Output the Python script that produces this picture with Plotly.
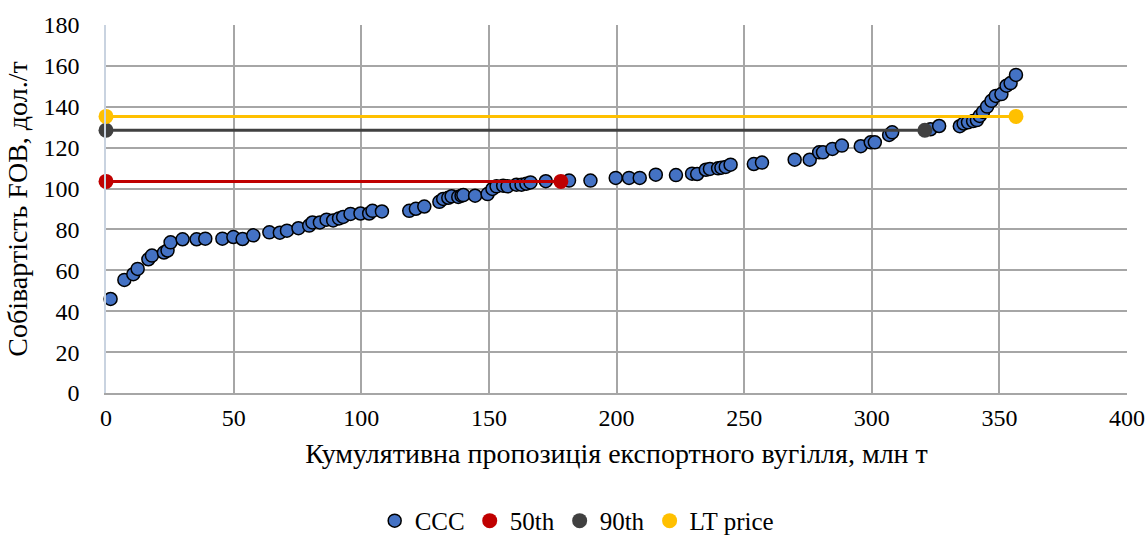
import plotly.graph_objects as go

# CCC: cumulative supply (Mt) vs FOB cost (USD/t)
ccc_x = [1.8, 7.2, 10.7, 12.4, 16.6, 18.0, 22.7, 24.1, 25.3, 30.0, 35.5, 38.9, 45.6, 49.9,
         53.5, 57.7, 64.0, 68.1, 70.9, 75.4, 79.6, 80.9, 83.8, 86.4, 89.0, 91.3, 92.9,
         95.8, 99.7, 103.1, 104.4, 108.1, 118.8, 121.4, 124.7, 130.6, 132.1, 134.1,
         135.4, 138.0, 139.3, 140.0, 144.6, 149.5, 151.4, 153.0, 155.6, 157.3, 160.8,
         162.8, 164.7, 166.3, 172.3, 181.4, 189.8, 199.7, 204.9, 209.1, 215.4, 223.3,
         229.6, 231.6, 235.0, 236.6, 239.8, 241.1, 242.8, 244.7, 253.8, 257.0, 269.8,
         275.7, 279.4, 280.9, 284.6, 288.3, 295.7, 299.6, 301.2, 306.8, 308.0, 323.0,
         326.4, 334.5, 336.0, 337.7, 339.7, 341.2, 342.3, 343.6, 345.2, 346.9, 348.6,
         350.8, 352.8, 354.4, 356.5]
ccc_y = [46.0, 55.3, 58.1, 60.7, 65.4, 67.2, 68.7, 69.7, 73.7, 75.2, 75.2, 75.5, 75.5, 76.3,
         75.3, 77.1, 78.6, 78.4, 79.4, 80.6, 81.9, 83.4, 83.4, 84.8, 84.4, 85.4, 86.1,
         87.6, 87.8, 87.8, 89.1, 88.8, 89.1, 90.1, 91.2, 93.5, 94.9, 95.5, 96.2, 95.9,
         96.5, 96.8, 96.5, 97.3, 99.8, 101.1, 101.4, 101.1, 101.9, 101.9, 102.4, 103.0,
         103.6, 103.9, 103.9, 105.2, 105.2, 105.2, 106.8, 106.6, 107.3, 107.1, 109.2,
         109.6, 109.9, 110.2, 110.6, 111.7, 112.0, 112.7, 114.1, 114.1, 117.7, 117.7,
         119.4, 121.0, 120.7, 122.6, 122.6, 126.2, 127.5, 129.0, 130.6, 130.5, 131.8,
         132.4, 133.0, 133.5, 135.5, 137.5, 140.1, 142.9, 145.3, 146.2, 150.3, 151.6,
         155.6]

p50_x = [0, 178.2]
p50_y = [103.5, 103.5]
p90_x = [0, 320.8]
p90_y = [128.5, 128.5]
lt_x = [0, 356.5]
lt_y = [135.3, 135.3]

x_ticks = [0, 50, 100, 150, 200, 250, 300, 350, 400]
y_ticks = [0, 20, 40, 60, 80, 100, 120, 140, 160, 180]

FONT = "Times New Roman, Liberation Serif, serif"

fig = go.Figure()

fig.add_trace(go.Scatter(x=ccc_x, y=ccc_y, mode="markers", name="CCC",
                         marker=dict(color="#4472C4", size=13, line=dict(color="#000000", width=1.5)),
                         cliponaxis=False))

for xs, ys, col, nm in [(p50_x, p50_y, "#C00000", "50th"),
                        (p90_x, p90_y, "#404040", "90th"),
                        (lt_x, lt_y, "#FFC000", "LT price")]:
    fig.add_trace(go.Scatter(x=xs, y=ys, mode="lines", line=dict(color=col, width=3),
                             showlegend=False, legendgroup=nm, hoverinfo="skip", cliponaxis=False))
    fig.add_trace(go.Scatter(x=xs, y=ys, mode="markers", name=nm, legendgroup=nm,
                             marker=dict(color=col, size=15), cliponaxis=False))

fig.update_layout(
    width=1148, height=544,
    margin=dict(l=106, r=21, t=25, b=151, autoexpand=False),
    paper_bgcolor="white", plot_bgcolor="white",
    font=dict(family=FONT, size=25, color="#000000"),
    showlegend=True,
    legend=dict(orientation="h", x=0.461, xanchor="center", y=-0.41, yanchor="bottom",
                font=dict(family=FONT, size=25), itemwidth=30, tracegroupgap=0),
    xaxis=dict(range=[0, 400], tickvals=x_ticks, ticktext=[str(v) for v in x_ticks],
               showgrid=True, gridcolor="#A6A6A6", gridwidth=1.5,
               showline=True, linecolor="#A6A6A6", linewidth=1.5,
               zeroline=False, ticks="", tickfont=dict(family=FONT, size=24),
               ticklabelstandoff=2, automargin=False,
               title=dict(text="Кумулятивна пропозиція експортного вугілля, млн т",
                          font=dict(family=FONT, size=28), standoff=14)),
    yaxis=dict(range=[0, 180], tickvals=y_ticks, ticktext=[str(v) for v in y_ticks],
               showgrid=True, gridcolor="#A6A6A6", gridwidth=1.5,
               showline=True, linecolor="#C9D3E0", linewidth=1.5,
               zeroline=False, ticks="", tickfont=dict(family=FONT, size=24),
               ticklabelstandoff=20, automargin=False,
               title=dict(text="Собівартість FOB, дол./т",
                          font=dict(family=FONT, size=28), standoff=8)),
)

fig.write_html("out.html", config={"displayModeBar": False},
               post_script="document.body.style.margin='0';document.body.style.overflow='hidden';")
